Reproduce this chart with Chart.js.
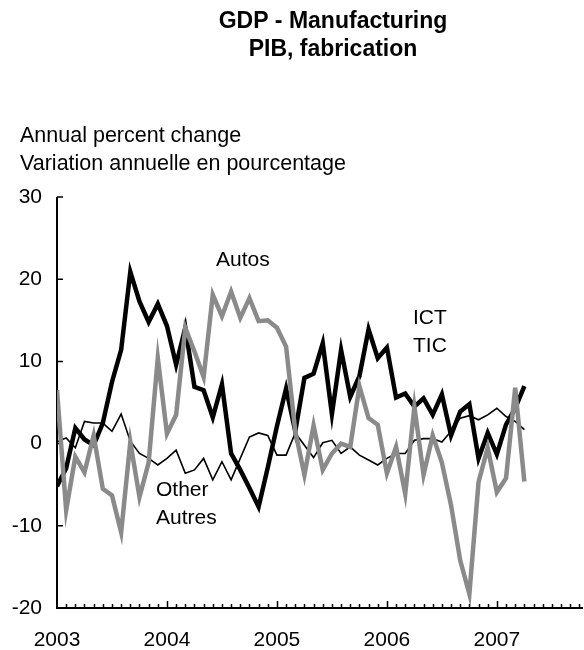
<!DOCTYPE html>
<html>
<head>
<meta charset="utf-8">
<title>GDP - Manufacturing</title>
<script src="https://cdn.jsdelivr.net/npm/chart.js@4.4.1/dist/chart.umd.min.js"></script>
<style>
    body { margin: 0; background: #fff; }
    #wrap { width: 584px; height: 650px; }
</style>
</head>
<body>
<div id="wrap"><canvas id="gdpChart" width="584" height="650"></canvas></div>
<script>
// monthly, Jan 2003 - Apr 2007, annual % change
const years = ['2003', '2004', '2005', '2006', '2007'];
const yTicks = [30, 20, 10, 0, -10, -20];

const ict = [
    -5.2, -3.0, 1.9, 0.5, -0.2, 2.5, 7.5, 11.4, 20.9, 17.3, 14.8, 17.0,
    14.3, 9.6, 14.1, 6.9, 6.5, 3.2, 7.2, -1.2, -3.2, -5.4, -7.7, -2.9,
    2.1, 6.7, 1.5, 8.0, 8.5, 12.2, 3.6, 11.4, 5.7, 8.2, 13.9, 10.4,
    11.7, 5.6, 6.1, 4.5, 5.5, 3.5, 6.0, 1.0, 3.9, 4.8, -1.8, 1.3,
    -1.3, 2.3, 4.3, 7.0
];

const autos = [
    6.5, -8.1, -1.6, -3.5, 1.0, -5.5, -6.3, -10.8, 0.2, -6.5, -2.3, 10.4,
    1.2, 3.5, 14.1, 11.2, 8.1, 18.1, 15.5, 18.5, 15.3, 17.7, 14.9, 15.0,
    14.1, 11.8, 1.5, -3.8, 2.2, -3.2, -1.2, 0.0, -0.4, 7.0, 3.1, 2.3,
    -3.6, -0.4, -6.1, 4.5, -3.8, 1.0, -2.3, -7.5, -14.2, -18.3, -4.7, -0.5,
    -5.9, -4.2, 6.8, -4.6
];

const other = [
    0.2, 0.7, -0.5, 2.7, 2.5, 2.5, 1.5, 3.6, 0.3, -1.2, -1.8, -2.6,
    -1.8, -0.8, -3.6, -3.2, -1.8, -4.4, -2.2, -4.4, -1.8, 0.8, 1.3, 1.0,
    -1.4, -1.4, 1.3, -0.2, -1.7, 0.1, 0.4, -1.2, -0.4, -1.4, -2.0, -2.6,
    -1.8, -1.2, -1.2, 0.4, 0.6, 0.6, 0.2, 1.5, 3.1, 3.4, 2.9, 3.5,
    4.3, 3.3, 2.7, 1.7
];

const FONT = '"Liberation Sans", Arial, Helvetica, sans-serif';

function toPoints(values) {
    return values.map((v, i) => ({ x: i, y: v }));
}

// axes, ticks, titles and series labels drawn on the canvas
const frame = {
    id: 'frame',
    beforeDatasetsDraw(chart) {
        const ctx = chart.ctx;
        const xs = chart.scales.x;
        const ys = chart.scales.y;
        const left = xs.getPixelForValue(0);
        const right = chart.chartArea.right;
        const bottom = ys.getPixelForValue(-20);
        const top = ys.getPixelForValue(30);

        ctx.save();
        ctx.strokeStyle = '#000';
        ctx.lineWidth = 2;
        ctx.beginPath();
        ctx.moveTo(left, top);
        ctx.lineTo(left, bottom);
        ctx.lineTo(right, bottom);
        ctx.stroke();

        ctx.lineWidth = 1.5;
        ctx.beginPath();
        yTicks.forEach(v => {
            const y = ys.getPixelForValue(v);
            ctx.moveTo(left, y);
            ctx.lineTo(left + 6, y);
        });
        for (let m = 1; m <= 57; m++) {
            const x = Math.round(xs.getPixelForValue(m)) + 0.5;
            ctx.moveTo(x, bottom);
            ctx.lineTo(x, bottom - (m % 12 === 0 ? 7 : 4));
        }
        ctx.stroke();

        ctx.fillStyle = '#000';
        ctx.font = '21px ' + FONT;
        ctx.textAlign = 'right';
        ctx.textBaseline = 'middle';
        yTicks.forEach(v => {
            ctx.fillText(String(v), 42, ys.getPixelForValue(v));
        });

        ctx.textAlign = 'center';
        years.forEach((yr, i) => {
            ctx.fillText(yr, xs.getPixelForValue(i * 12), 640);
        });

        ctx.font = 'bold 23px ' + FONT;
        ctx.fillText('GDP - Manufacturing', 333, 22);
        ctx.fillText('PIB, fabrication', 333, 50);

        ctx.font = '21.5px ' + FONT;
        ctx.textAlign = 'left';
        ctx.fillText('Annual percent change', 20, 136);
        ctx.fillText('Variation annuelle en pourcentage', 20, 164);

        ctx.font = '21px ' + FONT;
        ctx.fillText('Autos', 216, 260);
        ctx.fillText('ICT', 413, 318);
        ctx.fillText('TIC', 413, 346);
        ctx.fillText('Other', 156, 490);
        ctx.fillText('Autres', 156, 518);
        ctx.restore();
    }
};

const ctx = document.getElementById('gdpChart').getContext('2d');
new Chart(ctx, {
    type: 'line',
    data: {
        datasets: [
            {
                label: 'Autos',
                data: toPoints(autos),
                borderColor: '#8a8a8a',
                borderWidth: 4.5
            },
            {
                label: 'ICT',
                data: toPoints(ict),
                borderColor: '#000',
                borderWidth: 4.5
            },
            {
                label: 'Other',
                data: toPoints(other),
                borderColor: '#000',
                borderWidth: 1.6
            }
        ]
    },
    options: {
        responsive: false,
        animation: false,
        layout: { padding: { left: 57, right: 1, top: 197, bottom: 42 } },
        elements: {
            point: { radius: 0 },
            line: { tension: 0, fill: false, borderJoinStyle: 'miter' }
        },
        scales: {
            x: { type: 'linear', min: 0, max: 57.4, display: false },
            y: { type: 'linear', min: -20, max: 30, display: false }
        },
        plugins: {
            legend: { display: false },
            tooltip: { enabled: false }
        }
    },
    plugins: [frame]
});
</script>
</body>
</html>
